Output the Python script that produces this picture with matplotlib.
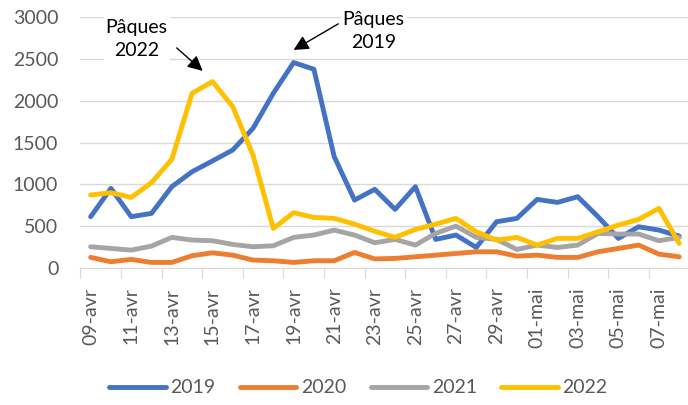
import numpy as np
import matplotlib.pyplot as plt
from matplotlib.ticker import FixedLocator

days = ["09-avr", "10-avr", "11-avr", "12-avr", "13-avr", "14-avr", "15-avr", "16-avr",
        "17-avr", "18-avr", "19-avr", "20-avr", "21-avr", "22-avr", "23-avr", "24-avr",
        "25-avr", "26-avr", "27-avr", "28-avr", "29-avr", "30-avr", "01-mai", "02-mai",
        "03-mai", "04-mai", "05-mai", "06-mai", "07-mai", "08-mai"]

y2019 = [614, 953, 614, 654, 973, 1152, 1280, 1411, 1670, 2089, 2456, 2376, 1332, 813, 941,
         702, 973, 343, 395, 247, 554, 594, 821, 785, 853, 614, 355, 494, 454, 383]
y2020 = [128, 76, 104, 68, 68, 148, 183, 155, 96, 88, 68, 88, 88, 187, 110,
         116, 135, 155, 175, 195, 195, 143, 155, 128, 128, 195, 235, 275, 167, 135]
y2021 = [255, 235, 215, 263, 367, 335, 327, 283, 255, 267, 367, 395, 454, 395, 303,
         343, 275, 415, 502, 367, 343, 223, 275, 247, 275, 415, 407, 407, 327, 367]
y2022 = [873, 901, 845, 1021, 1300, 2089, 2229, 1929, 1351, 474, 662, 606, 594, 526, 440,
         367, 462, 526, 594, 434, 335, 367, 275, 355, 355, 434, 514, 582, 714, 295]

series = [("2019", y2019, "#4472C4"), ("2020", y2020, "#ED7D31"),
          ("2021", y2021, "#A5A5A5"), ("2022", y2022, "#FFC000")]

plt.rcParams['font.family'] = ['Lato', 'DejaVu Sans']
txt = "#595959"
fs = 14

fig = plt.figure(figsize=(6.88, 4.05), dpi=100)
ax = fig.add_axes([0.117, 0.338, 0.885, 0.62])

x = np.arange(len(days))
for name, vals, col in series:
    ax.plot(x, vals, color=col, lw=3.5, label=name, solid_capstyle='round',
            solid_joinstyle='round')

ax.set_xlim(-0.5, len(days) - 0.5)
ax.set_ylim(0, 3000)
ax.set_yticks(np.arange(0, 3001, 500))
ax.yaxis.grid(True, color="#D9D9D9", lw=1)
ax.set_axisbelow(True)
for s in ["top", "right", "left"]:
    ax.spines[s].set_visible(False)
ax.spines["bottom"].set_color("#D9D9D9")
ax.tick_params(axis='y', length=0, labelsize=fs, labelcolor=txt, pad=16)

# tick marks between categories, labels every 2 days
ax.xaxis.set_major_locator(FixedLocator(np.arange(-0.5, len(days), 2)))
ax.set_xticklabels([])
ax.tick_params(axis='x', which='major', length=7, color="#D9D9D9")
ax.xaxis.set_minor_locator(FixedLocator(x[::2]))
ax.set_xticklabels(days[::2], minor=True, rotation=90)
ax.tick_params(axis='x', which='minor', length=0, labelsize=fs, labelcolor=txt, pad=14)

arrow = dict(arrowstyle='-|>,head_length=0.9,head_width=0.45', color='black', lw=1,
             shrinkA=0, shrinkB=0)
ax.text(2.27, 2740, "Pâques\n2022", ha='center', va='center', fontsize=fs, linespacing=1.45,
        bbox=dict(boxstyle='square,pad=0.1', fc='white', ec='none'))
ax.annotate("", xy=(5.52, 2356), xytext=(4.24, 2631), arrowprops=arrow)
ax.text(13.94, 2835, "Pâques\n2019", ha='center', va='center', fontsize=fs, linespacing=1.45,
        bbox=dict(boxstyle='square,pad=0.1', fc='white', ec='none'))
ax.annotate("", xy=(10.0, 2607), xytext=(12.2, 2918), arrowprops=arrow)

fig.legend(loc='lower center', bbox_to_anchor=(0.521, -0.022), ncol=4, frameon=False,
           fontsize=fs, handlelength=2.9, handletextpad=0.25, columnspacing=1.25,
           labelcolor=txt)

fig.savefig("out.png", dpi=100)
